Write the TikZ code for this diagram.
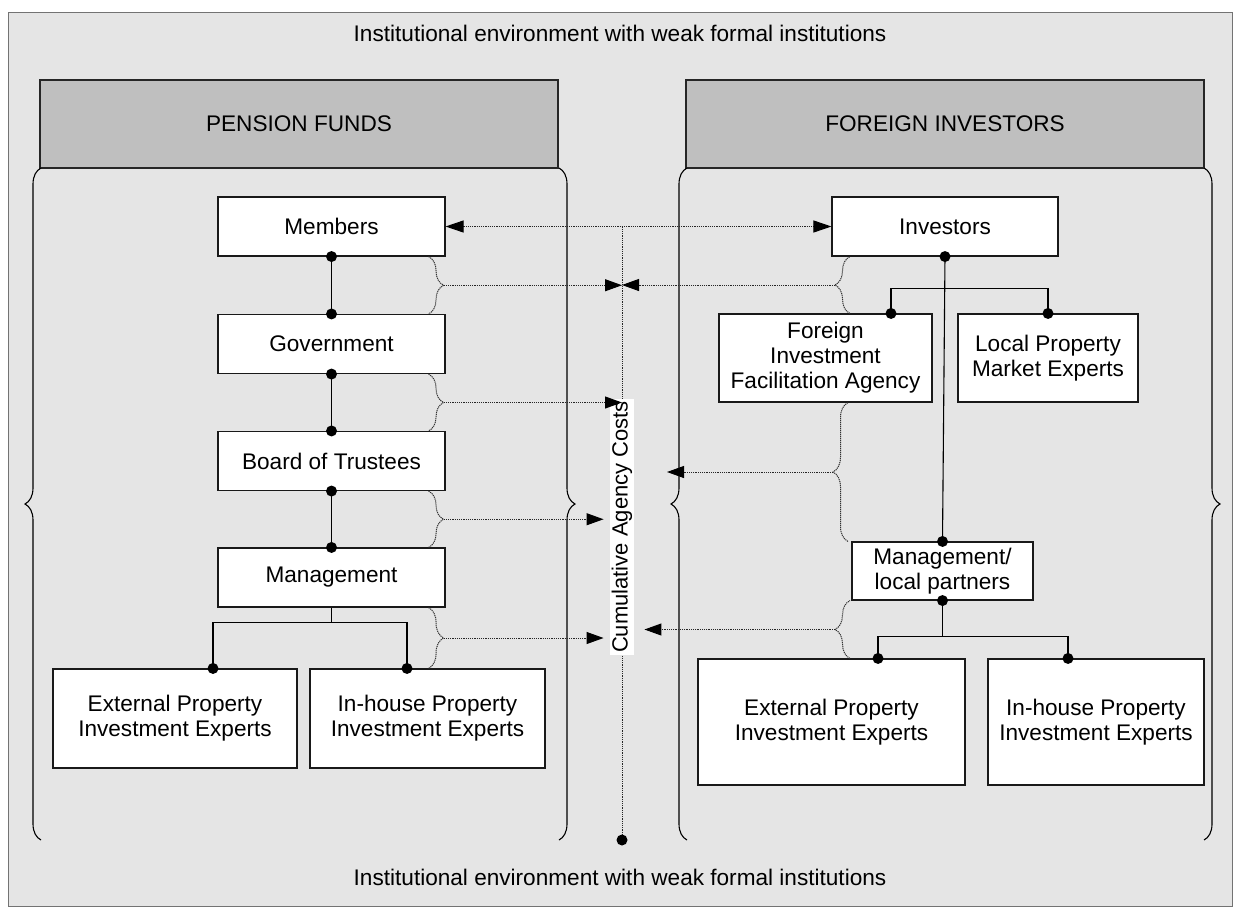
\documentclass[tikz,border=0pt]{standalone}
\usepackage{fontspec}
\setmainfont{Liberation Sans}
\usetikzlibrary{arrows.meta,calc,decorations.pathreplacing}

\tikzset{
  box/.style={draw=black!90,line width=1.1pt,fill=white,align=center,inner sep=2pt},
  pfbox/.style={box,minimum width=227pt,minimum height=59pt},
  header/.style={draw=black!85,line width=1.1pt,fill=black!25,minimum width=518pt,minimum height=88pt},
  tree/.style={line width=1.6pt,black},
  flow/.style={black!85,line width=1pt,dash pattern=on 1.2pt off 1pt},
  flowhead/.style={-{Triangle[length=17pt,width=12pt,black]}},
  cbrace/.style={black!80,line width=1pt,dash pattern=on 1.2pt off 0.8pt,decorate,decoration={brace,amplitude=15pt}},
  pbrace/.style={black,line width=1.1pt,decorate,decoration={brace,amplitude=16pt}}
}

\begin{document}
\begin{tikzpicture}[x=1pt,y=-1pt,every node/.style={font=\fontsize{22.6}{25}\selectfont}]
\useasboundingbox (0,0) rectangle (1240,913);
\draw[black!55,line width=1pt,fill=black!10](8,12)rectangle(1232,906);
\node (envtop) at (620,33) {Institutional environment with weak formal institutions};
\node (envbot) at (620,877) {Institutional environment with weak formal institutions};

% the two sides
\node[header] (pfhead) at (299,124) {PENSION FUNDS};
\node[header] (fihead) at (945,124) {FOREIGN INVESTORS};
\draw[pbrace](41,840)--(41,168);
\draw[pbrace](559,168)--(559,840);
\draw[pbrace](687,840)--(687,168);
\draw[pbrace](1204,168)--(1204,840);

% agency costs line
\coordinate (ctop) at (622,226.5);
\coordinate (cbot) at (622,840);
\draw[flow](ctop)--(cbot);
\node[fill=white,rotate=90,inner sep=2pt,font=\fontsize{22}{25}\selectfont] (cac) at (622,527) {Cumulative Agency Costs};

% pension funds
\node[pfbox] (members) at (331.5,226.5) {Members};
\node[pfbox] (gov) at (331.5,344) {Government};
\node[pfbox] (board) at (331.5,461) {Board of Trustees};
\node[pfbox] (mgmt) at (331.5,577.5) {Management};
\node[box,minimum width=244pt,minimum height=99pt] (extL) at (175,718.5) {External Property\\Investment Experts};
\node[box,minimum width=235pt,minimum height=99pt] (inL) at (427.5,718.5) {In-house Property\\Investment Experts};
\draw[tree](members.south)--(gov.north);
\draw[tree](gov.south)--(board.north);
\draw[tree](board.south)--(mgmt.north);
\draw[tree](mgmt.south)--++(0,15)coordinate(lfork);
\coordinate (dL1) at (213,0 |- extL.north);
\coordinate (dL2) at (407,0 |- inL.north);
\draw[tree](dL1)|-(lfork)-|(dL2);

% foreign investors
\node[box,minimum width=226pt,minimum height=59pt] (investors) at (945,226.5) {Investors};
\node[box,minimum width=213pt,minimum height=88pt] (fifa) at (825.5,358) {Foreign\\Investment\\Facilitation Agency};
\node[box,minimum width=180pt,minimum height=88pt] (lpme) at (1048,358) {Local Property\\Market Experts};
\node[box,minimum width=181pt,minimum height=58pt] (mlp) at (942.5,571) {Management/\\local partners};
\node[box,minimum width=267pt,minimum height=126pt] (extR) at (831.5,722) {External Property\\Investment Experts};
\node[box,minimum width=216pt,minimum height=126pt] (inR) at (1096,722) {In-house Property\\Investment Experts};
\draw[tree,line width=1.1pt](investors.south)--(mlp.north);
\coordinate (dF1) at (891,0 |- fifa.north);
\draw[tree](dF1)--++(0,-25)-|(lpme.north);
\draw[tree](mlp.south)--++(0,36)coordinate(rfork);
\coordinate (dE1) at (878,0 |- extR.north);
\coordinate (dE2) at (1068,0 |- inR.north);
\draw[tree](dE1)|-(rfork)-|(dE2);

% braces
\draw[cbrace]([xshift=-17pt]members.south east)--([xshift=-17pt]members.south east |- gov.north);
\draw[cbrace]([xshift=-17pt]gov.south east)--([xshift=-17pt]gov.south east |- board.north);
\draw[cbrace]([xshift=-17pt]board.south east)--([xshift=-17pt]board.south east |- mgmt.north);
\draw[cbrace]([xshift=-17pt]mgmt.south east)--([xshift=-17pt]mgmt.south east |- inL.north);
\coordinate (a1) at ($(members.south east)!.5!(members.south east |- gov.north)+(-2,0)$);
\coordinate (a2) at ($(gov.south east)!.5!(gov.south east |- board.north)+(-2,0)$);
\coordinate (a3) at ($(board.south east)!.5!(board.south east |- mgmt.north)+(-2,0)$);
\coordinate (a4) at ($(mgmt.south east)!.5!(mgmt.south east |- inL.north)+(-2,0)$);
\draw[cbrace](850,0 |- fifa.north)--(850,0 |- investors.south);
\draw[cbrace](848,0 |- mlp.north)--(848,0 |- fifa.south);
\draw[cbrace](850,0 |- extR.north)--(850,0 |- mlp.south);
\coordinate (a5) at ($(850,0 |- fifa.north)!.5!(850,0 |- investors.south)+(-15,0)$);
\coordinate (a6) at ($(848,0 |- mlp.north)!.5!(848,0 |- fifa.south)+(-15,0)$);
\coordinate (a7) at ($(850,0 |- extR.north)!.5!(850,0 |- mlp.south)+(-15,0)$);

% flows of agency costs
\draw[flow,{Triangle[length=18pt,width=12pt,black]}-{Triangle[length=18pt,width=12pt,black]}](members)--(investors);
\draw[flow,flowhead](a1)--(a1 -| ctop);
\draw[flow,flowhead](a2)--(a2 -| ctop);
\draw[flow,flowhead,shorten >=6pt](a3)--(a3 -| cac.north);
\draw[flow,flowhead,shorten >=6pt](a4)--(a4 -| cac.north);
\draw[flow,flowhead](a5)--(a5 -| ctop);
\draw[flow,flowhead](a6)--($(a6 -| ctop)+(45,0)$);
\draw[flow,flowhead,shorten >=10pt](a7)--(a7 -| cac.south);

% dots
\fill(members.south)circle(5.5pt); \fill(gov.north)circle(5.5pt);
\fill(gov.south)circle(5.5pt); \fill(board.north)circle(5.5pt);
\fill(board.south)circle(5.5pt); \fill(mgmt.north)circle(5.5pt);
\fill(dL1)circle(5.5pt); \fill(dL2)circle(5.5pt);
\fill(investors.south)circle(5.5pt); \fill(dF1)circle(5.5pt);
\fill(lpme.north)circle(5.5pt); \fill(mlp.north)circle(5.5pt);
\fill(mlp.south)circle(5.5pt); \fill(dE1)circle(5.5pt);
\fill(dE2)circle(5.5pt); \fill(cbot)circle(5.5pt);
\end{tikzpicture}
\end{document}
